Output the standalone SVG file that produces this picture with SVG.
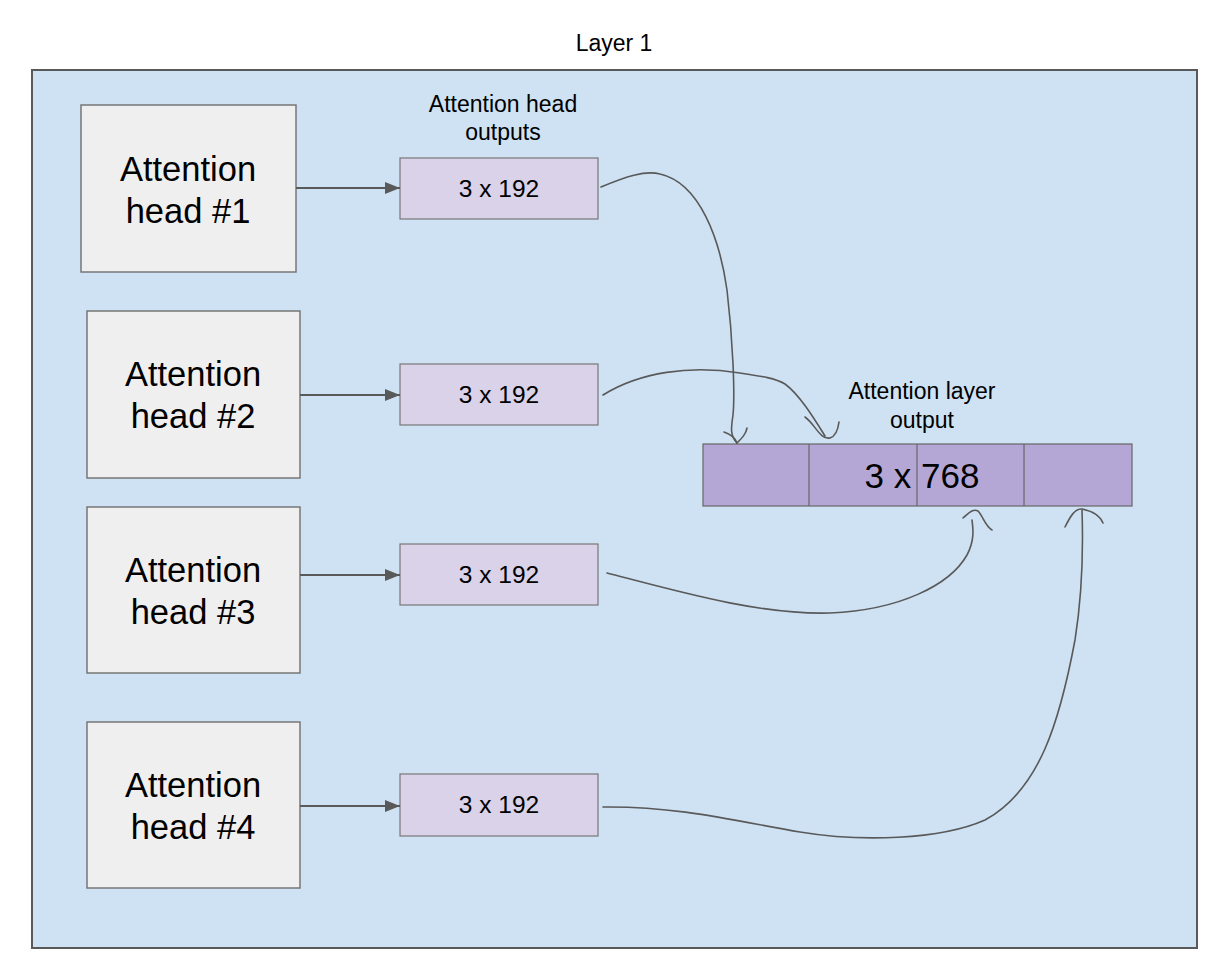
<svg xmlns="http://www.w3.org/2000/svg" width="1219" height="958" viewBox="0 0 1219 958">
  <style>
    text { font-family: "Liberation Sans", Arial, sans-serif; fill: #000; text-anchor: middle; }
    .head rect { fill: #efefef; stroke: #777; stroke-width: 1.5; }
    .head text { font-size: 34.5px; }
    .out rect { fill: #d9d2e9; stroke: #777; stroke-width: 1.2; }
    .out text { font-size: 24.5px; }
    .label { font-size: 23px; }
    .arrow { stroke: #595959; stroke-width: 2; fill: none; }
    .curve { stroke: #595959; stroke-width: 1.6; fill: none; stroke-linecap: round; }
  </style>
  <defs>
    <marker id="tri" viewBox="0 0 15 12" refX="15" refY="6" markerWidth="7.5" markerHeight="6" orient="auto" markerUnits="strokeWidth">
      <path d="M0,0 L15,6 L0,12 Z" fill="#595959"/>
    </marker>
  </defs>

  <rect width="1219" height="958" fill="#fff"/>

  <!-- layer container -->
  <g id="layer1">
    <rect x="32" y="70" width="1165" height="878" fill="#cfe2f3" stroke="#595959" stroke-width="2"/>
    <text x="614" y="51" class="label">Layer 1</text>
  </g>

  <text x="503" y="112" class="label">Attention head</text>
  <text x="503" y="140" class="label">outputs</text>
  <text x="922" y="399" class="label">Attention layer</text>
  <text x="922" y="428" class="label">output</text>

  <g id="head1" class="head">
    <rect x="81" y="105" width="215" height="167"/>
    <text x="188" y="181">Attention</text>
    <text x="188" y="223">head #1</text>
  </g>
  <g id="head2" class="head">
    <rect x="87" y="311" width="213" height="167"/>
    <text x="193" y="386">Attention</text>
    <text x="193" y="428">head #2</text>
  </g>
  <g id="head3" class="head">
    <rect x="87" y="507" width="213" height="166"/>
    <text x="193" y="582">Attention</text>
    <text x="193" y="624">head #3</text>
  </g>
  <g id="head4" class="head">
    <rect x="87" y="722" width="213" height="166"/>
    <text x="193" y="797">Attention</text>
    <text x="193" y="839">head #4</text>
  </g>

  <g id="out1" class="out">
    <rect x="400" y="158" width="198" height="61"/>
    <text x="499" y="197">3 x 192</text>
  </g>
  <g id="out2" class="out">
    <rect x="400" y="364" width="198" height="61"/>
    <text x="499" y="403">3 x 192</text>
  </g>
  <g id="out3" class="out">
    <rect x="400" y="544" width="198" height="61"/>
    <text x="499" y="583">3 x 192</text>
  </g>
  <g id="out4" class="out">
    <rect x="400" y="774" width="198" height="62"/>
    <text x="499" y="813">3 x 192</text>
  </g>

  <g id="layer-output">
    <rect x="703" y="444" width="429" height="62" fill="#b4a7d6" stroke="#666" stroke-width="1.2"/>
    <line x1="809" y1="444" x2="809" y2="506" stroke="#666" stroke-width="1.2"/>
    <line x1="917" y1="444" x2="917" y2="506" stroke="#666" stroke-width="1.2"/>
    <line x1="1024" y1="444" x2="1024" y2="506" stroke="#666" stroke-width="1.2"/>
    <text x="922" y="488" style="font-size:35px">3 x 768</text>
  </g>

  <g id="connectors">
    <line class="arrow" x1="296" y1="188" x2="400" y2="188" marker-end="url(#tri)"/>
    <line class="arrow" x1="300" y1="395" x2="400" y2="395" marker-end="url(#tri)"/>
    <line class="arrow" x1="300" y1="575" x2="400" y2="575" marker-end="url(#tri)"/>
    <line class="arrow" x1="300" y1="806" x2="400" y2="806" marker-end="url(#tri)"/>

    <!-- hand-drawn curves into the concatenated output -->
    <path class="curve" d="M601,187 C625,177 645,170 660,174 C700,183 720,240 727,290 C733,340 735,395 733,415 C731,428 730,436 737,443"/>
    <path class="curve" d="M724,432 C730,434 735,437 737,443 C742,438 746,434 747,428"/>

    <path class="curve" d="M603,395 C640,372 690,365 740,373 C760,376 775,378 785,384 C800,395 815,420 825,436"/>
    <path class="curve" d="M805,417 C815,424 820,440 830,438 C836,436 838,430 839,422"/>

    <path class="curve" d="M607,573 C680,592 760,615 830,613 C900,610 950,585 967,555 C975,540 973,528 972,520"/>
    <path class="curve" d="M963,518 C968,514 973,508 978,511 C983,516 985,526 992,530"/>

    <path class="curve" d="M603,807 C680,806 740,822 800,832 C860,842 940,840 985,820 C1040,790 1060,720 1075,640 C1083,590 1083,540 1082,510"/>
    <path class="curve" d="M1065,527 C1070,517 1075,508 1082,509 C1092,511 1100,516 1103,523"/>
  </g>
</svg>
